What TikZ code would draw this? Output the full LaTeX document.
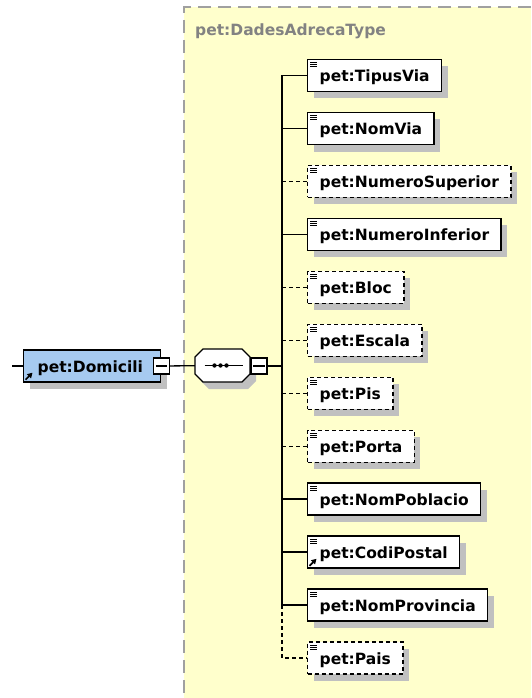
\documentclass[tikz,border=0pt]{standalone}
\usepackage{fontspec}
\newfontfamily\xsdfont{DejaVu Sans}
\usepackage{xcolor}
\usetikzlibrary{shadows,arrows.meta}
\definecolor{typefill}{RGB}{255,255,204}
\definecolor{typeline}{RGB}{160,160,160}
\definecolor{typetext}{RGB}{130,130,130}
\definecolor{shadowgray}{RGB}{192,192,192}
\definecolor{domblue}{RGB}{166,202,240}

\begin{document}
\begin{tikzpicture}[x=1pt,y=-1pt,
		xsd/.style={font=\xsdfont\bfseries\fontsize{15.5}{18}\selectfont},
		elem/.style={xsd,draw,line width=1.4pt,fill=white,anchor=west,inner xsep=12pt,inner ysep=6.75pt,
			text height=15.75pt,text depth=2.75pt,
			general shadow={fill=shadowgray,shadow xshift=6pt,shadow yshift=-7pt}},
		opt/.style={elem,dash pattern=on 4pt off 3pt},
		lines/.style={path picture={
				\draw[solid,line width=0.9pt] ([shift={(2.5pt,-3pt)}]path picture bounding box.north west) -- ++(7pt,0pt);
				\draw[solid,line width=0.9pt] ([shift={(2.5pt,-5pt)}]path picture bounding box.north west) -- ++(7pt,0pt);
				\draw[solid,line width=0.9pt] ([shift={(2.5pt,-7pt)}]path picture bounding box.north west) -- ++(7pt,0pt);}},
		minus/.style={draw,line width=1.2pt,fill=white,minimum size=16pt,inner sep=0pt},
		conn/.style={line width=1.3pt},
		optconn/.style={conn,dash pattern=on 4pt off 3pt},
		refarrow/.style={line width=1.7pt,-{Triangle[length=5pt,width=5.5pt]}}]
	\useasboundingbox (0,0) rectangle (531,698);
	\fill[white] (0,0) rectangle (531,698);
	% complex type area
	\fill[typefill] (184,7) rectangle (531,698);
	\draw[typeline,line width=1.5pt,dash pattern=on 13pt off 7pt] (531,7) -- (184,7) -- (184,698);
	\node[xsd,anchor=base west,text=typetext,inner sep=0pt] (typename) at (195,35.5) {pet:DadesAdrecaType};
	% element and compositor
	\node[elem,fill=domblue,text width=109pt,align=left,inner xsep=14pt] (dom) at (23,366) {pet:Domicili};
	\draw[refarrow] ([shift={(2.5pt,3pt)}]dom.south west) -- ++(7pt,7pt);
	\node[minus] (domm) at (dom.east) {};
	\draw[line width=1.1pt] ([xshift=3pt]domm.west) -- ([xshift=-3pt]domm.east);
	\node[minimum width=55pt,minimum height=33pt,inner sep=0pt] (seq) at (222.5,365.5) {};
	\begin{scope}[shift={(seq.center)}]
		\fill[shadowgray,shift={(6,7)}] (-19.5,-16.5) -- (19.5,-16.5) -- (27.5,-8.5) -- (27.5,8.5) -- (19.5,16.5)
			-- (-19.5,16.5) -- (-27.5,8.5) -- (-27.5,-8.5) -- cycle;
		\draw[line width=1.2pt,fill=white] (-19.5,-16.5) -- (19.5,-16.5) -- (27.5,-8.5) -- (27.5,8.5) -- (19.5,16.5)
			-- (-19.5,16.5) -- (-27.5,8.5) -- (-27.5,-8.5) -- cycle;
	\end{scope}
	\draw[line width=1.1pt] ([xshift=-18pt]seq.center) -- ([xshift=20pt]seq.center);
	\fill ([xshift=-8pt]seq.center) circle (2.2pt) ([xshift=-2pt]seq.center) circle (2.2pt) ([xshift=4pt]seq.center) circle (2.2pt);
	\node[minus] (seqm) at (259,366) {};
	\draw[line width=1.1pt] ([xshift=3pt]seqm.west) -- ([xshift=-3pt]seqm.east);
	% child elements
	\node[elem,lines] (tipus) at (307,75.5) {pet:TipusVia};
	\node[elem,lines] (nomvia) at (307,128.5) {pet:NomVia};
	\node[opt,lines] (numsup) at (307,181.4) {pet:NumeroSuperior};
	\node[elem,lines] (numinf) at (307,234.4) {pet:NumeroInferior};
	\node[opt,lines] (bloc) at (307,287.3) {pet:Bloc};
	\node[opt,lines] (escala) at (307,340.3) {pet:Escala};
	\node[opt,lines] (pis) at (307,393.2) {pet:Pis};
	\node[opt,lines] (porta) at (307,446.2) {pet:Porta};
	\node[elem,lines] (nompob) at (307,499.1) {pet:NomPoblacio};
	\node[elem,lines] (codi) at (307,552.1) {pet:CodiPostal};
	\draw[refarrow] ([shift={(2.5pt,3pt)}]codi.south west) -- ++(7pt,7pt);
	\node[elem,lines] (prov) at (307,605) {pet:NomProvincia};
	\node[opt,lines] (pais) at (307,658) {pet:Pais};
	% connectors
	\coordinate (in) at (12,366);
	\coordinate (bus) at (282,0);
	\draw[conn] (in) -- (dom);
	\draw[conn] (domm) -- (seq);
	\draw[conn] (seqm) -- (seqm -| bus);
	\draw[conn] (tipus.west -| bus) -- (prov.west -| bus);
	\draw[optconn] (prov.west -| bus) |- (pais);
	\draw[conn] (tipus.west -| bus) -- (tipus);
	\draw[conn] (nomvia.west -| bus) -- (nomvia);
	\draw[optconn] (numsup.west -| bus) -- (numsup);
	\draw[conn] (numinf.west -| bus) -- (numinf);
	\draw[optconn] (bloc.west -| bus) -- (bloc);
	\draw[optconn] (escala.west -| bus) -- (escala);
	\draw[optconn] (pis.west -| bus) -- (pis);
	\draw[optconn] (porta.west -| bus) -- (porta);
	\draw[conn] (nompob.west -| bus) -- (nompob);
	\draw[conn] (codi.west -| bus) -- (codi);
	\draw[conn] (prov.west -| bus) -- (prov);
\end{tikzpicture}
\end{document}
